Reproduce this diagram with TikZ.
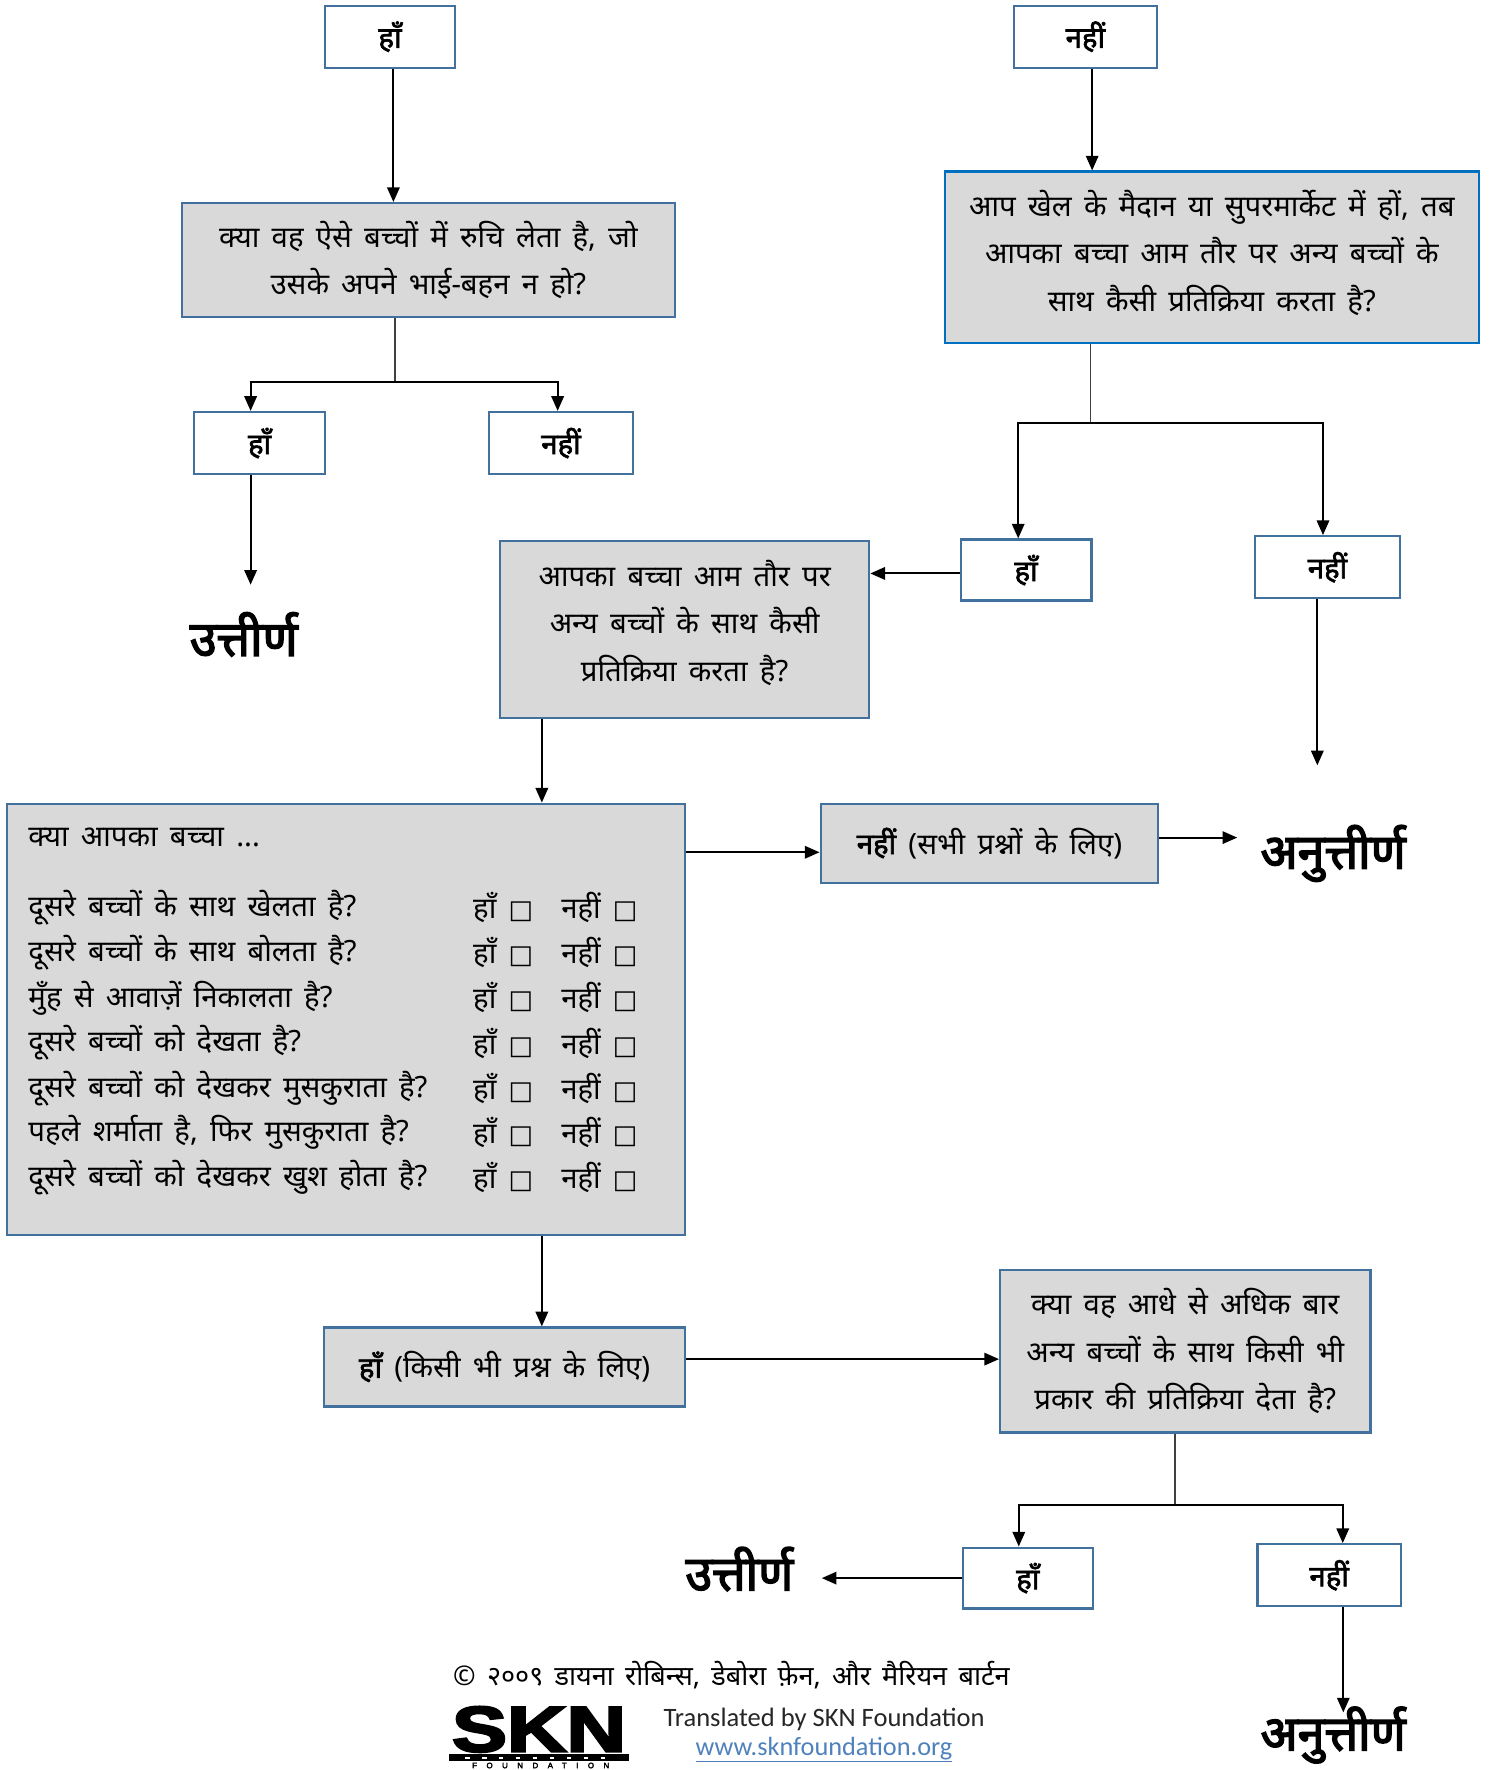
\documentclass[tikz,border=0pt]{standalone}
\usepackage{fontspec}
\setmainfont{Noto Sans}[Script=Devanagari,WordSpace=1.6]
\newfontfamily\devbf{Noto Sans}[Script=Devanagari,FakeBold=2.2]
\newfontfamily\devbig{Noto Sans}[Script=Devanagari,FakeBold=3]
\newfontfamily\symfont{DejaVu Sans}
\newfontfamily\latfont{Carlito}
\newfontfamily\logofont{Liberation Sans}[FakeBold=3.5]
\usetikzlibrary{arrows.meta,calc}
\definecolor{bord}{HTML}{41719C}
\definecolor{bordtwo}{HTML}{0070C0}
\definecolor{boxfill}{HTML}{D9D9D9}
\definecolor{linkblue}{HTML}{4F81BD}
\newcommand{\cb}{{\symfont\fontsize{23}{24}\selectfont □}}
\begin{document}
\begin{tikzpicture}[x=1pt,y=-1pt,
  ansbox/.style={draw=bord,line width=2pt,fill=white,inner sep=0pt,
    font=\devbf\fontsize{26}{28}\selectfont},
  qbox/.style={draw=bord,line width=2pt,fill=boxfill,inner sep=0pt,align=center,
    font=\fontsize{26}{42}\selectfont},
  qtext/.style={inner sep=0pt,align=center,font=\fontsize{26}{42}\selectfont},
  result/.style={inner sep=0pt,font=\devbig\fontsize{43}{46}\selectfont},
  rowtext/.style={anchor=west,inner sep=0pt,font=\fontsize{26}{28}\selectfont},
  arr/.style={line width=1.8pt,-{Triangle[length=13pt,width=11pt]}},
  conn/.style={line width=1.2pt,draw=black!75},
]
\useasboundingbox (0,0) rectangle (1324,1568);

% ---- top row
\node[ansbox,minimum width=115,minimum height=55] (t1) at (345.5,32.5) {हाँ};
\node[ansbox,minimum width=127,minimum height=55] (t2) at (961.5,32.5) {नहीं};

% ---- question boxes
\node[qbox,minimum width=437,minimum height=101] (q1) at (379.5,230.5)
  {क्या वह ऐसे बच्चों में रुचि लेता है, जो\\उसके अपने भाई-बहन न हो?};
\node[qbox,draw=bordtwo,minimum width=473,minimum height=152] (q2) at (1073.5,228) {};
\node[qtext] (q2t) at (1073.5,224)
  {आप खेल के मैदान या सुपरमार्केट में हों, तब\\आपका बच्चा आम तौर पर अन्य बच्चों के\\साथ कैसी प्रतिक्रिया करता है?};

\node[ansbox,minimum width=116,minimum height=55] (y1) at (230,392.5) {हाँ};
\node[ansbox,minimum width=128,minimum height=55] (n1) at (497,392.5) {नहीं};
\node[result] (pass1) at (216,562) {उत्तीर्ण};

\node[ansbox,minimum width=116,minimum height=54] (y2) at (909,505) {हाँ};
\node[ansbox,minimum width=128,minimum height=55] (n2) at (1176,502.5) {नहीं};
\node[qbox,minimum width=327,minimum height=157] (q3) at (606.5,557.5) {};
\node[qtext] (q3t) at (606.5,551.5)
  {आपका बच्चा आम तौर पर\\अन्य बच्चों के साथ कैसी\\प्रतिक्रिया करता है?};
\node[result] (fail1) at (1181,756) {अनुत्तीर्ण};

% ---- checklist box
\node[qbox,minimum width=601,minimum height=382] (big) at (306.5,903) {};
\node[rowtext] (bh) at (25,742) {क्या आपका बच्चा ...};
\foreach \i/\q/\yy in {1/दूसरे बच्चों के साथ खेलता है?/804,
  2/दूसरे बच्चों के साथ बोलता है?/844,
  3/मुँह से आवाज़ें निकालता है?/884,
  4/दूसरे बच्चों को देखता है?/924,
  5/दूसरे बच्चों को देखकर मुसकुराता है?/964,
  6/{पहले शर्माता है, फिर मुसकुराता है?}/1003,
  7/दूसरे बच्चों को देखकर खुश होता है?/1043}{
  \node[rowtext] (rq\i) at (25,\yy) {\q};
  \node[rowtext] (ry\i) at (419,\yy) {हाँ \cb};
  \node[rowtext] (rn\i) at (497,\yy) {नहीं \cb};
}

\node[qbox,minimum width=299,minimum height=70] (nall) at (876.5,747)
  {{\devbf नहीं} (सभी प्रश्नों के लिए)};
\node[qbox,minimum width=320,minimum height=70] (yany) at (447,1211)
  {{\devbf हाँ} (किसी भी प्रश्न के लिए)};
\node[qbox,minimum width=328,minimum height=144] (q4) at (1050,1197)
  {क्या वह आधे से अधिक बार\\अन्य बच्चों के साथ किसी भी\\प्रकार की प्रतिक्रिया देता है?};

\node[ansbox,minimum width=115,minimum height=54] (y3) at (910.5,1398) {हाँ};
\node[ansbox,minimum width=127,minimum height=55] (n3) at (1177.5,1395.5) {नहीं};
\node[result] (pass2) at (655,1390) {उत्तीर्ण};
\node[result] (fail2) at (1181,1537) {अनुत्तीर्ण};

% ---- footer
\node[inner sep=0pt,font=\fontsize{24}{26}\selectfont] (copy) at (648,1484)
  {© २००९ डायना रोबिन्स, डेबोरा फ़ेन, और मैरियन बार्टन};
\node[inner sep=0pt,font=\logofont\bfseries\fontsize{57}{57}\selectfont,xscale=1.28] (skn) at (477.5,1532) {SKN};
\fill (398,1554) rectangle (557,1560);
\draw[white,line width=1.6pt,dash pattern=on 4pt off 11pt] (412,1557) -- (545,1557);
\node[inner sep=0pt,font=\logofont\fontsize{7}{7}\selectfont\addfontfeatures{LetterSpace=120}] (fdn) at (479,1564) {FOUNDATION};
\node[inner sep=0pt,font=\latfont\fontsize{23.5}{25}\selectfont,text=black!85] (trans) at (730,1523) {Translated by SKN Foundation};
\node[inner sep=0pt,font=\latfont\fontsize{23.3}{25}\selectfont,text=linkblue] (url) at (730,1550) {\underline{www.sknfoundation.org}};

% ---- connectors
\draw[arr] ([xshift=3pt]t1.south) -- ([xshift=3pt]t1.south |- q1.north);
\draw[arr] ([xshift=6pt]t2.south) -- ([xshift=6pt]t2.south |- q2.north);

\coordinate (j1) at (350,338);
\draw[conn] (j1 |- q1.south) -- (j1);
\draw[arr] (j1) -| ([xshift=-8pt]y1.north);
\draw[arr] (j1) -| ([xshift=-3pt]n1.north);
\coordinate (p1) at (222,518);
\draw[arr] (p1 |- y1.south) -- (p1);

\coordinate (j2) at (966,375);
\draw[conn] (j2 |- q2.south) -- (j2);
\draw[arr] (j2) -| ([xshift=-7pt]y2.north);
\draw[arr] (j2) -| ([xshift=-4pt]n2.north);
\coordinate (yb) at (0,508);
\draw[arr] (yb -| y2.west) -- (yb -| q3.east);
\coordinate (f1) at (1167,678);
\draw[arr] (f1 |- n2.south) -- (f1);

\coordinate (xa) at (480,0);
\draw[arr] (q3.south -| xa) -- (big.north -| xa);
\coordinate (ya) at (0,755);
\draw[arr] (ya -| big.east) -- (ya -| nall.west);
\coordinate (f1b) at (1096,742);
\draw[arr] (f1b -| nall.east) -- (f1b);
\draw[arr] (big.south -| xa) -- (yany.north -| xa);
\coordinate (yc) at (0,1204);
\draw[arr] (yc -| yany.east) -- (yc -| q4.west);

\coordinate (j3) at (1041,1333);
\draw[conn] (j3 |- q4.south) -- (j3);
\draw[arr] (j3) -| ([xshift=-8pt]y3.north);
\draw[arr] (j3) -| ([xshift=12pt]n3.north);
\coordinate (p2) at (728,1398);
\draw[arr] (y3.west) -- (p2);
\coordinate (f2) at (1190,1517);
\draw[arr] (f2 |- n3.south) -- (f2);
\end{tikzpicture}
\end{document}
